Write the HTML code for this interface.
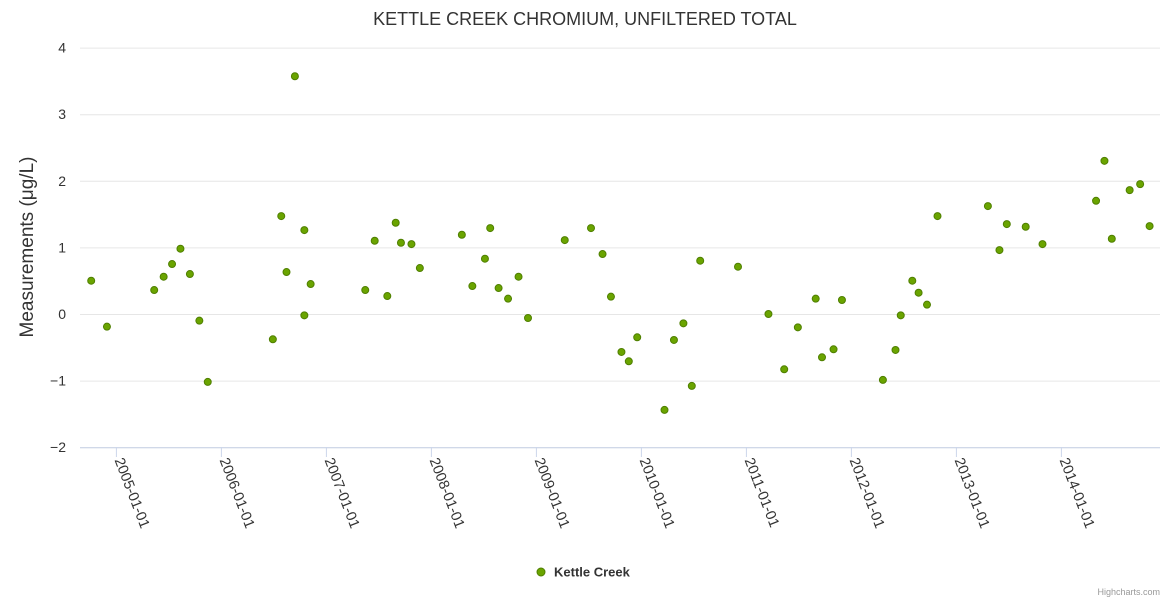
<!DOCTYPE html>
<html><head><meta charset="utf-8"><style>
html,body{margin:0;padding:0;background:#fff;}
svg{display:block;font-family:"Liberation Sans","DejaVu Sans",sans-serif;}
</style></head><body>
<svg id="chart" width="1170" height="600">
<text x="585" y="25" text-anchor="middle" font-size="18" fill="#333">KETTLE CREEK CHROMIUM, UNFILTERED TOTAL</text>
<text transform="translate(33,247) rotate(-90)" text-anchor="middle" font-size="19" fill="#333">Measurements (μg/L)</text>
<g id="grid"></g><g id="xaxis"></g><g id="points"></g>
<g>
<circle cx="541" cy="572" r="4" fill="#6aa400" stroke="#4f7f00" stroke-width="1"/>
<text x="554" y="576.5" font-size="13" font-weight="bold" fill="#333">Kettle Creek</text>
</g>
<text x="1160" y="595" text-anchor="end" font-size="9" fill="#999">Highcharts.com</text>
</svg>
<script>
const yTicks=[-2,-1,0,1,2,3,4];
const xTickYears=[2005,2006,2007,2008,2009,2010,2011,2012,2013,2014];
const dates=[2004.76,2004.91,2005.36,2005.45,2005.53,2005.61,2005.70,2005.79,2005.87,2006.49,2006.57,2006.62,2006.70,2006.79,2006.79,2006.85,2007.37,2007.46,2007.58,2007.66,2007.71,2007.81,2007.89,2008.29,2008.39,2008.51,2008.56,2008.64,2008.73,2008.83,2008.92,2009.27,2009.52,2009.63,2009.71,2009.81,2009.88,2009.96,2010.22,2010.31,2010.40,2010.48,2010.56,2010.92,2011.21,2011.36,2011.49,2011.66,2011.72,2011.83,2011.91,2012.30,2012.42,2012.47,2012.58,2012.64,2012.72,2012.82,2013.30,2013.41,2013.48,2013.66,2013.82,2014.33,2014.41,2014.48,2014.65,2014.75,2014.84];
const values=[0.50,-0.19,0.36,0.56,0.75,0.98,0.60,-0.10,-1.02,-0.38,1.47,0.63,3.57,1.26,-0.02,0.45,0.36,1.10,0.27,1.37,1.07,1.05,0.69,1.19,0.42,0.83,1.29,0.39,0.23,0.56,-0.06,1.11,1.29,0.90,0.26,-0.57,-0.71,-0.35,-1.44,-0.39,-0.14,-1.08,0.80,0.71,0.00,-0.83,-0.20,0.23,-0.65,-0.53,0.21,-0.99,-0.54,-0.02,0.50,0.32,0.14,1.47,1.62,0.96,1.35,1.31,1.05,1.70,2.30,1.13,1.86,1.95,1.32];
const NS="http://www.w3.org/2000/svg";
const X0=80,X1=1160;
function xs(t){return 116.4+(t-2005)*105;}
function ys(v){return 314-v*66.6;}
const grid=document.getElementById('grid');
yTicks.forEach(v=>{
 const l=document.createElementNS(NS,'line');
 l.setAttribute('x1',X0);l.setAttribute('x2',X1);l.setAttribute('y1',ys(v)+0.5);l.setAttribute('y2',ys(v)+0.5);
 l.setAttribute('stroke',v===-2?'#c0cbe0':'#e6e6e6');l.setAttribute('stroke-width','1');
 
 
 grid.appendChild(l);
 const t=document.createElementNS(NS,'text');
 t.setAttribute('x',66);t.setAttribute('y',ys(v)+5);t.setAttribute('text-anchor','end');
 t.setAttribute('font-size','14');t.setAttribute('fill','#333');
 t.textContent=v<0?'\u2212'+Math.abs(v):String(v);
 
 
 grid.appendChild(t);
});
const xa=document.getElementById('xaxis');
xTickYears.forEach(y=>{
 const x=xs(y);
 const l=document.createElementNS(NS,'line');
 l.setAttribute('x1',x);l.setAttribute('x2',x);l.setAttribute('y1',447);l.setAttribute('y2',457);
 l.setAttribute('stroke','#ccd6eb');
 
 
 xa.appendChild(l);
 const t=document.createElementNS(NS,'text');
 t.setAttribute('transform','translate('+(x-2)+',460) rotate(69)');
 t.setAttribute('font-size','14.5');t.setAttribute('fill','#333');
 t.textContent=y+'-01-01';
 
 
 xa.appendChild(t);
});
const pg=document.getElementById('points');
dates.forEach((d,i)=>{
 const c=document.createElementNS(NS,'circle');
 c.setAttribute('cx',xs(d));c.setAttribute('cy',ys(values[i]));c.setAttribute('r',3.5);
 c.setAttribute('fill','#6aa400');c.setAttribute('stroke','#4f7f00');c.setAttribute('stroke-width','1');
 
 
 pg.appendChild(c);
});
</script>
</body></html>
